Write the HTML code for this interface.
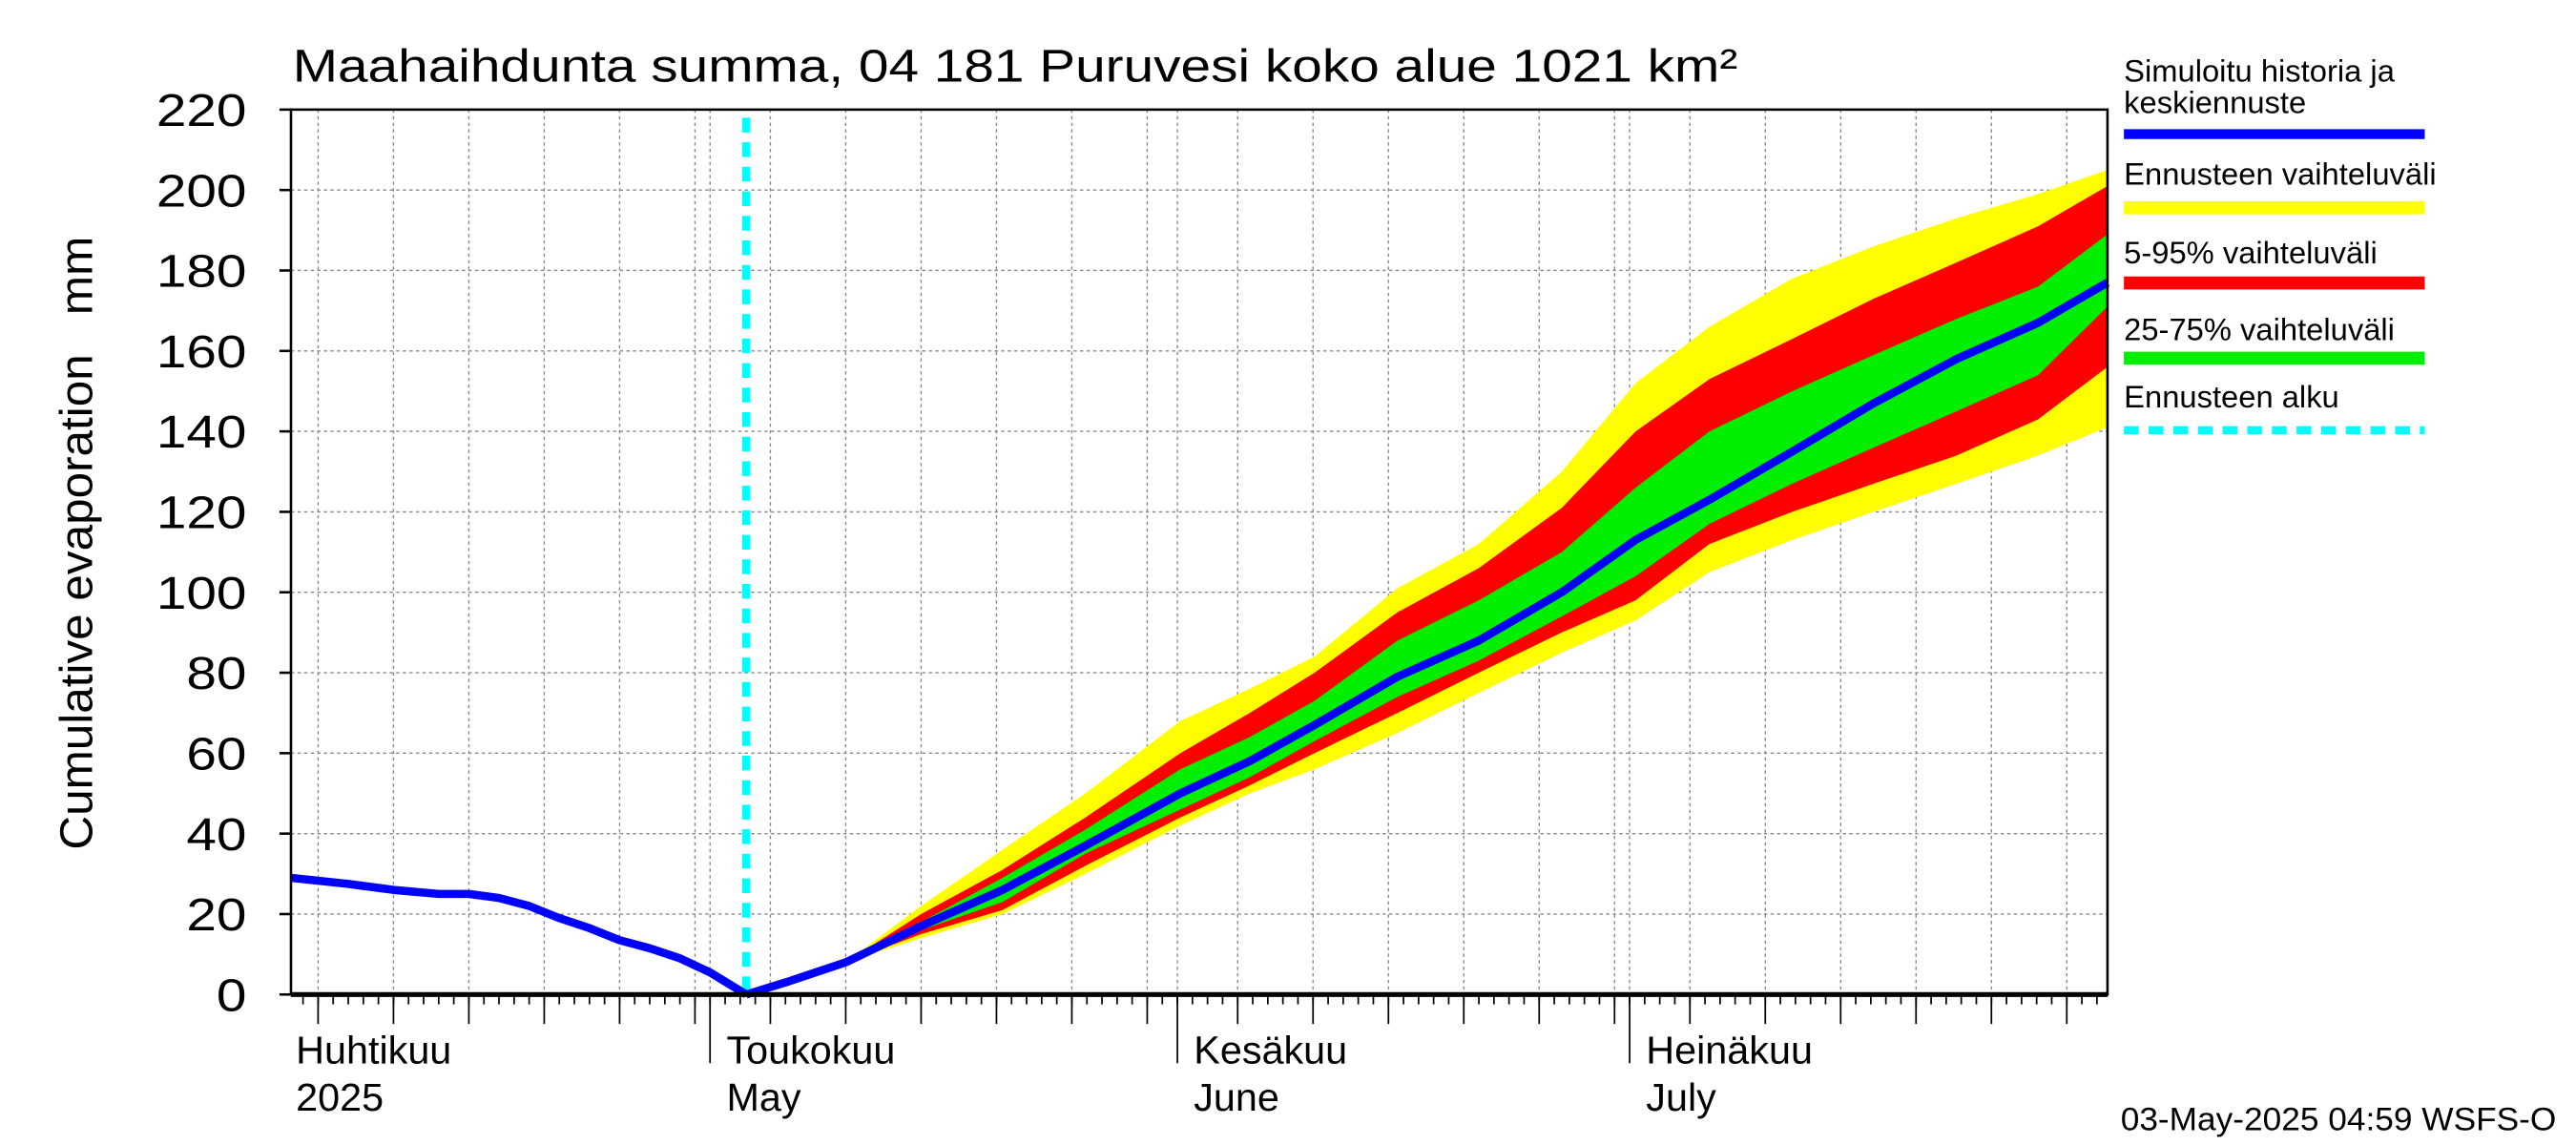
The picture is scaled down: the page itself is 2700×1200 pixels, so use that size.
<!DOCTYPE html>
<html><head><meta charset="utf-8"><style>
html,body{margin:0;padding:0;background:#fff}
svg{display:block;font-family:"Liberation Sans",sans-serif}
</style></head><body>
<svg id="chart" width="2700" height="1200" viewBox="0 0 1567 700" preserveAspectRatio="none" xmlns="http://www.w3.org/2000/svg">
<rect width="1567" height="700" fill="#fff"/>
<text x="178" y="50" font-size="28" textLength="879" lengthAdjust="spacingAndGlyphs">Maahaihdunta summa, 04 181 Puruvesi koko alue 1021 km²</text>
<text transform="translate(56,332) rotate(-90)" font-size="28" text-anchor="middle" textLength="375" lengthAdjust="spacingAndGlyphs" xml:space="preserve">Cumulative evaporation   mm</text>
<g id="grid"></g><g id="bands"></g><g id="lines"></g><g id="axes"></g>
<g font-size="19">
<text x="1292" y="50">Simuloitu historia ja</text><text x="1292" y="69">keskiennuste</text>
<line x1="1292" y1="82" x2="1475" y2="82" stroke="#0000ff" stroke-width="6"/>
<text x="1292" y="113">Ennusteen vaihteluväli</text>
<line x1="1292" y1="127" x2="1475" y2="127" stroke="#ffff00" stroke-width="8"/>
<text x="1292" y="161">5-95% vaihteluväli</text>
<line x1="1292" y1="173" x2="1475" y2="173" stroke="#ff0000" stroke-width="8"/>
<text x="1292" y="208">25-75% vaihteluväli</text>
<line x1="1292" y1="219" x2="1475" y2="219" stroke="#00ee00" stroke-width="8"/>
<text x="1292" y="249">Ennusteen alku</text>
<line x1="1292" y1="263" x2="1475" y2="263" stroke="#00ffff" stroke-width="5" stroke-dasharray="9,6"/>
</g>
<text x="1290" y="691" font-size="20" textLength="265" lengthAdjust="spacingAndGlyphs">03-May-2025 04:59 WSFS-O</text>
</svg>
<script>
const histDays=[2.2,6,9,12,14,16,18,20,22,24,26,28,30,32.4];
const histVals=[29,27.5,26,25,25,24,22,19,16.5,13.5,11.5,9,5.5,0];
const fcDays=[32.4,35,39,44,49.4,54.9,61.2,65.8,70.1,75.6,81,86.5,91.4,96.3,101.8,107.2,112.7,118.1,122.7];
const fcMedian=[0,3,8,17,26,37,50,58,67,79,88,100,113,123,135,147,158,167,177];
const fcMax=[0,3,8,22,36,50,68,76,84,101,112,130,152,166,178,186,193,199,205];
const fcMin=[0,3,8,14,20,30,42,50,56,65,75,85,93,105,113,120,127,134,141];
const p95=[0,3,8,20,31,44,60,70,80,95,106,121,140,153,163,173,182,191,201];
const p5=[0,3,8,15,21,32,44,52,60,70,80,90,98,112,120,127,134,143,156];
const p75=[0,3,8,18,29,41,56,64,73,88,98,110,126,140,150,159,168,176,189];
const p25=[0,3,8,16,23,35,46,54,63,74,83,94,104,117,127,136,145,154,171];
const yTicks=[0,20,40,60,80,100,120,140,160,180,200,220];
const forecastStart=32.4;
const months=[{d:0,a:"Huhtikuu",b:"2025"},{d:30,a:"Toukokuu",b:"May"},{d:61,a:"Kesäkuu",b:"June"},{d:91,a:"Heinäkuu",b:"July"}];
const X0=177,X1=1282,Y0=608,Y1=67,DMIN=2.2,DMAX=122.7;
const sx=d=>X0+(d-DMIN)*(X1-X0)/(DMAX-DMIN);
const sy=v=>Y0-v*(Y0-Y1)/220;
const NS="http://www.w3.org/2000/svg";
function mk(p,t,a){const e=document.createElementNS(NS,t);for(const k in a)e.setAttribute(k,a[k]);p.appendChild(e);return e;}
const grid=document.getElementById('grid'),bands=document.getElementById('bands'),lines=document.getElementById('lines'),axes=document.getElementById('axes');
yTicks.forEach(v=>{
 if(v>0&&v<220){const l=mk(grid,'line',{x1:X0,x2:X1,y1:sy(v),y2:sy(v),stroke:'#888','stroke-width':0.8,'stroke-dasharray':'2,2'});
 
 }
 const s=String(v);
 const t=mk(axes,'text',{x:150,y:sy(v)+10,'font-size':28,'text-anchor':'end',textLength:18.3*s.length,lengthAdjust:'spacingAndGlyphs'});t.textContent=s;
 
 
 mk(axes,'line',{x1:X0-7,x2:X0,y1:sy(v),y2:sy(v),stroke:'#000','stroke-width':1.5});
});
const mStart=[0,30,61,91,122];
for(let m=0;m<4;m++){for(let k=5;k<=30;k+=5){const d=mStart[m]+k-1;if(d>=mStart[m+1]||d<DMIN||d>DMAX)continue;
 const l=mk(grid,'line',{x1:sx(d),x2:sx(d),y1:Y1,y2:Y0,stroke:'#888','stroke-width':0.8,'stroke-dasharray':'2,2'});
 
 
 mk(axes,'line',{x1:sx(d),x2:sx(d),y1:Y0,y2:Y0+18,stroke:'#000','stroke-width':1});}}
for(let d=3;d<=DMAX;d++)mk(axes,'line',{x1:sx(d),x2:sx(d),y1:Y0,y2:Y0+6,stroke:'#000','stroke-width':1});
months.forEach(m=>{
 if(m.d>=DMIN){mk(grid,'line',{x1:sx(m.d),x2:sx(m.d),y1:Y1,y2:Y0,stroke:'#888','stroke-width':0.8,'stroke-dasharray':'2,2'});
 mk(axes,'line',{x1:sx(m.d),x2:sx(m.d),y1:Y0,y2:Y0+42,stroke:'#000','stroke-width':1});}
 const x=Math.max(sx(m.d)+10,180);
 const t1=mk(axes,'text',{x:x,y:650,'font-size':24});t1.textContent=m.a;
 
 
 const t2=mk(axes,'text',{x:x,y:679,'font-size':24});t2.textContent=m.b;
 
 
});
function band(lo,hi,col,name){let d='M'+fcDays.map((x,i)=>sx(x)+','+sy(hi[i])).join('L');
 for(let i=fcDays.length-1;i>=0;i--)d+='L'+sx(fcDays[i])+','+sy(lo[i]);
 const p=mk(bands,'path',{d:d+'Z',fill:col});
 
 }
band(fcMin,fcMax,'#ffff00','range-band');
band(p5,p95,'#ff0000','p5-95-band');
band(p25,p75,'#00ee00','p25-75-band');
const fs=mk(lines,'line',{x1:sx(forecastStart),x2:sx(forecastStart),y1:Y1+5,y2:Y0,stroke:'#00ffff','stroke-width':5,'stroke-dasharray':'9,6'});


const hp=mk(lines,'polyline',{points:histDays.map((x,i)=>sx(x)+','+sy(histVals[i])).join(' '),fill:'none',stroke:'#0000ff','stroke-width':5,'stroke-linejoin':'round'});


const mp=mk(lines,'polyline',{points:fcDays.map((x,i)=>sx(x)+','+sy(fcMedian[i])).join(' '),fill:'none',stroke:'#0000ff','stroke-width':5,'stroke-linejoin':'round'});


mk(axes,'rect',{x:X0,y:Y1,width:X1-X0,height:Y0-Y1,fill:'none',stroke:'#000','stroke-width':1.5});
mk(axes,'line',{x1:X0,x2:X1,y1:Y0,y2:Y0,stroke:'#000','stroke-width':3});
</script>
</body></html>
